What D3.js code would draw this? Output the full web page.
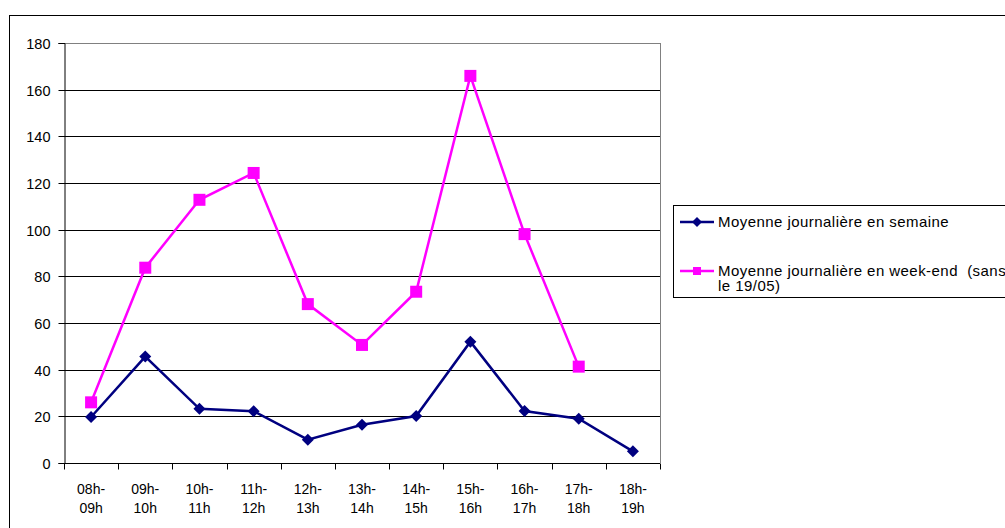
<!DOCTYPE html>
<html><head><meta charset="utf-8">
<script src="https://cdn.jsdelivr.net/npm/d3@7"></script>
<style>body{margin:0;background:#fff}svg{display:block}</style>
</head><body><svg id="c" width="1005" height="528"></svg>
<script>
const categories = [["08h-","09h"],["09h-","10h"],["10h-","11h"],["11h-","12h"],["12h-","13h"],["13h-","14h"],["14h-","15h"],["15h-","16h"],["16h-","17h"],["17h-","18h"],["18h-","19h"]];
const semaine = [19.7, 45.6, 23.2, 22.2, 10.0, 16.4, 20.1, 52.0, 22.3, 19.0, 5.0];
const weekend = [26.0, 83.7, 112.8, 124.3, 68.1, 50.6, 73.4, 165.9, 98.1, 41.3, null];
const yTicks = [0, 20, 40, 60, 80, 100, 120, 140, 160, 180];
const seriesNames = ["Moyenne journalière en semaine", ["Moyenne journalière en week-end  (sans", "le 19/05)"]];

const svg = d3.select("#c");
const font = "'Liberation Sans', Arial, sans-serif";
const L = 64, R = 660, T = 43, B = 463;
const keys = categories.map((c,i)=>i);
const x = d3.scaleBand().domain(keys).range([L, R]).padding(0);
const y = d3.scaleLinear().domain([0, 180]).range([B, T]);

// outer frame
svg.append("rect").attr("x", 9.5).attr("y", 15.5).attr("width", 1100).attr("height", 600)
  .attr("fill", "none").attr("stroke", "#000").attr("stroke-width", 1);

// gridlines
svg.append("g").selectAll("line").data(yTicks.filter(d=>d>0)).join("line")
  .attr("x1", L).attr("x2", R).attr("y1", d=>Math.round(y(d))+0.5).attr("y2", d=>Math.round(y(d))+0.5)
  .attr("stroke", d=>d===180?"#808080":"#000").attr("stroke-width", 1);
// right border
svg.append("line").attr("x1", R+0.5).attr("x2", R+0.5).attr("y1", T).attr("y2", B)
  .attr("stroke", "#808080");

// y axis
const ya = svg.append("g").attr("transform", `translate(${L+0.5},0)`)
  .call(d3.axisLeft(y).tickValues(yTicks).tickSize(6).tickPadding(8).tickFormat(d3.format("d")));
ya.select(".domain").attr("stroke", "#000");
ya.selectAll("line").attr("stroke", "#000");
ya.selectAll("text").attr("font-family", font).attr("font-size", 14.5).attr("fill", "#000").attr("dy", "0.35em");
ya.selectAll(".tick").attr("transform", d=>`translate(0,${Math.round(y(d))+0.5})`);

// x axis
const xb = d3.scaleLinear().domain([0, categories.length]).range([L, R]);
const xa = svg.append("g").attr("transform", `translate(0,${B+0.5})`)
  .call(d3.axisBottom(xb).tickValues(d3.range(categories.length+1)).tickSize(6).tickFormat(""));
xa.select(".domain").attr("stroke", "#000").attr("d", `M${L},0H${R}`);
xa.selectAll("line").attr("stroke", "#000");
xa.selectAll(".tick").attr("transform", d=>`translate(${Math.round(xb(d))+0.5},0)`);

const lbl = svg.append("g");
categories.forEach((c,i)=>{
  const t = lbl.append("text").attr("x", x(i)+x.bandwidth()/2).attr("y", 494)
    .attr("text-anchor","middle").attr("font-family", font).attr("font-size", 14).attr("fill","#000");
  t.append("tspan").attr("x", x(i)+x.bandwidth()/2).attr("dy", 0).text(c[0]);
  t.append("tspan").attr("x", x(i)+x.bandwidth()/2).attr("dy", 19).text(c[1]);
});

const cx = i => x(i) + x.bandwidth()/2;
const line = d3.line().defined(d=>d!=null).x((d,i)=>cx(i)).y(d=>y(d));

// weekend series
svg.append("path").datum(weekend).attr("d", line).attr("fill","none")
  .attr("stroke","#FF00FF").attr("stroke-width",2.5);
svg.append("g").selectAll("rect").data(weekend.map((v,i)=>[i,v]).filter(d=>d[1]!=null)).join("rect")
  .attr("x", d=>cx(d[0])-6).attr("y", d=>y(d[1])-6).attr("width",12).attr("height",12).attr("fill","#FF00FF");

// weekday series
svg.append("path").datum(semaine).attr("d", line).attr("fill","none")
  .attr("stroke","#000080").attr("stroke-width",2.5);
svg.append("g").selectAll("path").data(semaine.map((v,i)=>[i,v])).join("path")
  .attr("d", d3.symbol().type(d3.symbolSquare).size(72))
  .attr("transform", d=>`translate(${cx(d[0])},${y(d[1])}) rotate(45)`)
  .attr("fill","#000080");

// legend
const lg = svg.append("g");
lg.append("rect").attr("x", 673.5).attr("y", 205.5).attr("width", 400).attr("height", 92)
  .attr("fill","#fff").attr("stroke","#000");
// entry 1
lg.append("line").attr("x1",680).attr("x2",714).attr("y1",222).attr("y2",222).attr("stroke","#000080").attr("stroke-width",2.5);
lg.append("path").attr("d", d3.symbol().type(d3.symbolSquare).size(50)).attr("transform","translate(697,222) rotate(45)").attr("fill","#000080");
lg.append("text").attr("x",718).attr("y",226.5).attr("font-family",font).attr("font-size",15)
  .attr("letter-spacing",0.45).text(seriesNames[0]);
// entry 2
lg.append("line").attr("x1",680).attr("x2",714).attr("y1",271).attr("y2",271).attr("stroke","#FF00FF").attr("stroke-width",2.5);
lg.append("rect").attr("x",693).attr("y",267).attr("width",8).attr("height",8).attr("fill","#FF00FF");
const t2 = lg.append("text").attr("x",718).attr("y",275.5).attr("font-family",font).attr("font-size",15)
  .attr("letter-spacing",0.45).style("white-space","pre");
t2.append("tspan").attr("x",718).attr("dy",0).text(seriesNames[1][0]);
t2.append("tspan").attr("x",718).attr("dy",15.5).text(seriesNames[1][1]);
</script>
</body></html>
